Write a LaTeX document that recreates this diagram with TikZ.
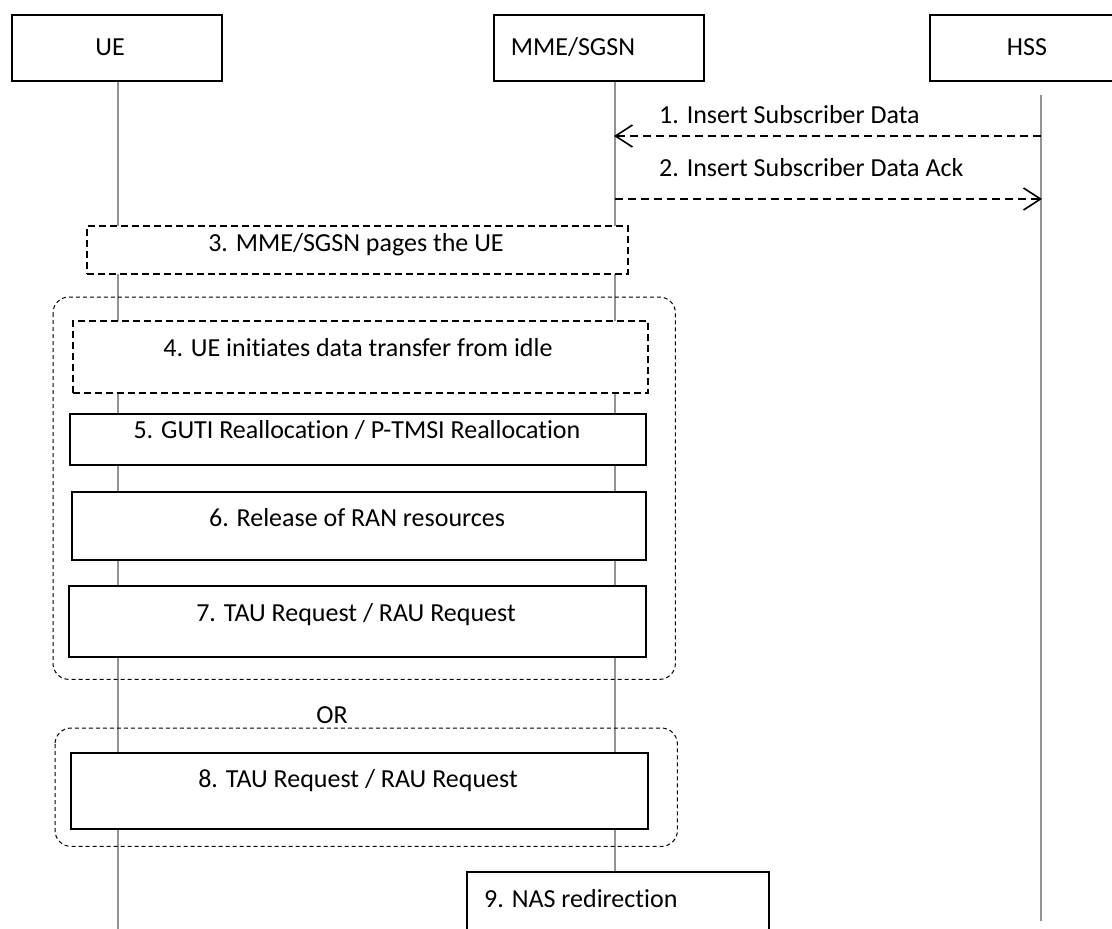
\documentclass[tikz,border=0pt]{standalone}
\usepackage{fontspec}
\setmainfont{Carlito}[Ligatures=NoCommon]
\usetikzlibrary{arrows.meta}
\begin{document}
\begin{tikzpicture}[x=1pt,y=-1pt,
  every node/.style={font=\fontsize{26}{31}\selectfont},
  hdr/.style={draw, line width=1.6pt, fill=white, inner sep=0pt, anchor=north west},
  stepbox/.style={draw, line width=1.6pt, fill=white, inner sep=0pt, anchor=north west},
  dbox/.style={draw, line width=1.6pt, dash pattern=on 7pt off 4pt, fill=white, inner sep=0pt, anchor=north west},
  grp/.style={draw, line width=1pt, dash pattern=on 4pt off 3pt, rounded corners=16pt},
  txt/.style={inner sep=0pt, anchor=base},
  life/.style={draw=gray!85, line width=1.3pt},
  msg/.style={line width=1.8pt, dash pattern=on 8pt off 5pt, -{Straight Barb[length=17pt,width=22pt,line width=1.6pt]}}
]
\useasboundingbox (0,0) rectangle (1112,929);
\fill[white] (0,0) rectangle (1112,929);

% lifelines
\coordinate (ueTop) at (118,80);  \coordinate (ueBot) at (118,935);
\coordinate (mmTop) at (615,80);  \coordinate (mmBot) at (615,872);
\coordinate (hsTop) at (1041,95); \coordinate (hsBot) at (1041,921);
\draw[life] (ueTop) -- (ueBot);
\draw[life] (mmTop) -- (mmBot);
\draw[life] (hsTop) -- (hsBot);

% headers
\node[hdr, minimum width=210pt, minimum height=66pt] (ue) at (11,14) {};
\node[txt] (uet) at (110,55) {UE};
\node[hdr, minimum width=210pt, minimum height=66pt] (mme) at (493,14) {};
\node[txt] (mmet) at (573,55) {MME/SGSN};
\node[hdr, minimum width=200pt, minimum height=66pt] (hss) at (929,14) {};
\node[txt] (hsst) at (1027,55) {HSS};

% messages 1 and 2
\coordinate (m1s) at (1041,136); \coordinate (m1e) at (614,136);
\draw[msg] (m1s) -- (m1e);
\node[txt, anchor=base west] (m1t) at (659,123) {1. Insert Subscriber Data};
\coordinate (m2s) at (615,199); \coordinate (m2e) at (1042,199);
\draw[msg] (m2s) -- (m2e);
\node[txt, anchor=base west] (m2t) at (659,176) {2. Insert Subscriber Data Ack};

% step 3
\node[dbox, minimum width=541pt, minimum height=48pt] (b3) at (86,225) {};
\node[txt] (t3) at (356,251) {3. MME/SGSN pages the UE};

% group 1
\node[inner sep=0pt, anchor=north west, minimum width=622pt, minimum height=382pt] (g1) at (53,297) {};
\draw[grp] (g1.north west) rectangle (g1.south east);

\node[dbox, minimum width=575pt, minimum height=72pt] (b4) at (72,320) {};
\node[txt] (t4) at (358,356) {4. UE initiates data transfer from idle};

\node[stepbox, minimum width=576pt, minimum height=51pt] (b5) at (69,413) {};
\node[txt] (t5) at (357,438) {5. GUTI Reallocation / P-TMSI Reallocation};

\node[stepbox, minimum width=574pt, minimum height=68pt] (b6) at (71,491) {};
\node[txt] (t6) at (357,526) {6. Release of RAN resources};

\node[stepbox, minimum width=577pt, minimum height=71pt] (b7) at (68,585) {};
\node[txt] (t7) at (356,621) {7. TAU Request / RAU Request};

% OR
\node[txt] (ort) at (332,723) {OR};

% group 2
\node[inner sep=0pt, anchor=north west, minimum width=622pt, minimum height=118pt] (g2) at (55,728) {};
\draw[grp] (g2.north west) rectangle (g2.south east);

\node[stepbox, minimum width=577pt, minimum height=76pt] (b8) at (70,752) {};
\node[txt] (t8) at (358,787) {8. TAU Request / RAU Request};

% step 9
\node[stepbox, minimum width=302pt, minimum height=70pt] (b9) at (466,871) {};
\node[txt, anchor=base west] (t9) at (484,907) {9. NAS redirection};
\end{tikzpicture}
\end{document}
